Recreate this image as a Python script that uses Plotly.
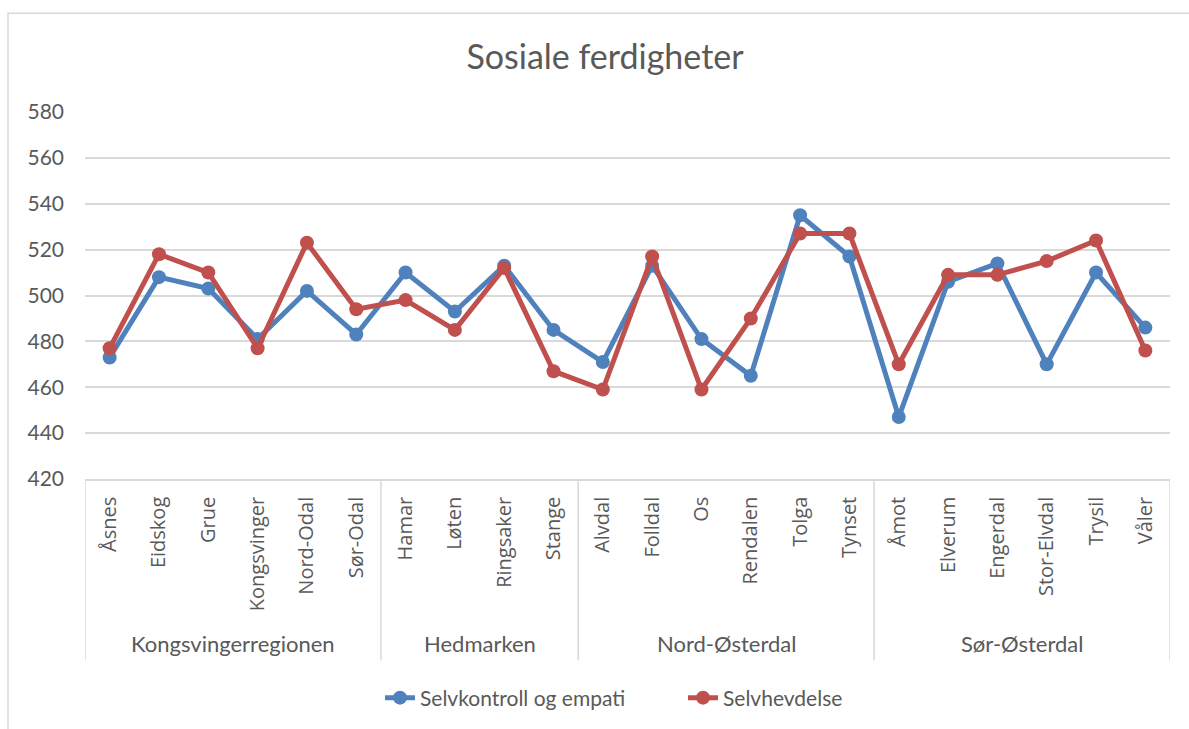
import plotly.graph_objects as go

municipalities = ["Åsnes", "Eidskog", "Grue", "Kongsvinger", "Nord-Odal", "Sør-Odal",
                  "Hamar", "Løten", "Ringsaker", "Stange",
                  "Alvdal", "Folldal", "Os", "Rendalen", "Tolga", "Tynset",
                  "Åmot", "Elverum", "Engerdal", "Stor-Elvdal", "Trysil", "Våler"]
regions = ["Kongsvingerregionen", "Hedmarken", "Nord-Østerdal", "Sør-Østerdal"]
region_sizes = [6, 4, 6, 6]

selvkontroll = [473, 508, 503, 481, 502, 483,
                510, 493, 513, 485,
                471, 513, 481, 465, 535, 517,
                447, 506, 514, 470, 510, 486]
selvhevdelse = [477, 518, 510, 477, 523, 494,
                498, 485, 512, 467,
                459, 517, 459, 490, 527, 527,
                470, 509, 509, 515, 524, 476]

y_ticks = [420, 440, 460, 480, 500, 520, 540, 560, 580]

BLUE = "#4F81BD"
RED = "#C0504D"
GRID = "#D9D9D9"
TXT = "#595959"
FONT = "Lato"

xs = list(range(len(municipalities)))

fig = go.Figure()
fig.add_trace(go.Scatter(x=xs, y=selvkontroll, mode="lines+markers", name="Selvkontroll og empati",
                         line=dict(color=BLUE, width=5), marker=dict(size=14, color=BLUE)))
fig.add_trace(go.Scatter(x=xs, y=selvhevdelse, mode="lines+markers", name="Selvhevdelse",
                         line=dict(color=RED, width=5), marker=dict(size=14, color=RED)))

# plot area geometry (px)
L, R, T, B = 85, 1170, 112, 480
H = B - T

def py(pix):
    return (B - pix) / H

shapes = []
annotations = []
start = 0
bounds = [-0.5]
for name, n in zip(regions, region_sizes):
    center = start + (n - 1) / 2
    annotations.append(dict(x=center, y=py(645), xref="x", yref="paper", text=name,
                            showarrow=False, font=dict(family=FONT, size=22, color=TXT),
                            xanchor="center", yanchor="middle"))
    start += n
    bounds.append(start - 0.5)
for b in bounds:
    shapes.append(dict(type="line", xref="x", yref="paper", x0=b, x1=b, y0=0, y1=py(662),
                       line=dict(color=GRID, width=1.5)))
# outer chart border
shapes.append(dict(type="rect", xref="paper", yref="paper",
                   x0=(8 - L) / (R - L), x1=(1200 - L) / (R - L), y0=py(740), y1=py(13),
                   line=dict(color=GRID, width=1.5), fillcolor="rgba(0,0,0,0)", layer="below"))

fig.update_layout(
    width=1189, height=729,
    margin=dict(l=L, r=1189 - R, t=T, b=729 - B),
    paper_bgcolor="white", plot_bgcolor="white",
    title=dict(text="Sosiale ferdigheter", x=605 / 1189, xanchor="center", y=1 - 57 / 729,
               yanchor="middle", font=dict(family=FONT, size=34, color=TXT)),
    xaxis=dict(range=[-0.5, len(municipalities) - 0.5], tickmode="array", tickvals=xs,
               ticktext=municipalities, tickangle=-90, showgrid=False, zeroline=False,
               showline=True, linecolor=GRID, linewidth=1.5, ticks="", ticklabelstandoff=8,
               tickfont=dict(family="Open Sans", size=20, color=TXT)),
    yaxis=dict(range=[420, 580], tickmode="array", tickvals=y_ticks, showgrid=True,
               gridcolor=GRID, gridwidth=1.5, zeroline=False, showline=False, ticks="",
               ticklabelstandoff=20,
               tickfont=dict(family=FONT, size=21, color=TXT)),
    legend=dict(orientation="h", x=(683 - L) / (R - L), xanchor="center", y=py(698),
                yanchor="middle", entrywidth=258, entrywidthmode="pixels",
                font=dict(family=FONT, size=21, color=TXT)),
    shapes=shapes, annotations=annotations,
)

fig.write_html("out.html", config={"displayModeBar": False},
               post_script="document.body.style.margin='0';")
